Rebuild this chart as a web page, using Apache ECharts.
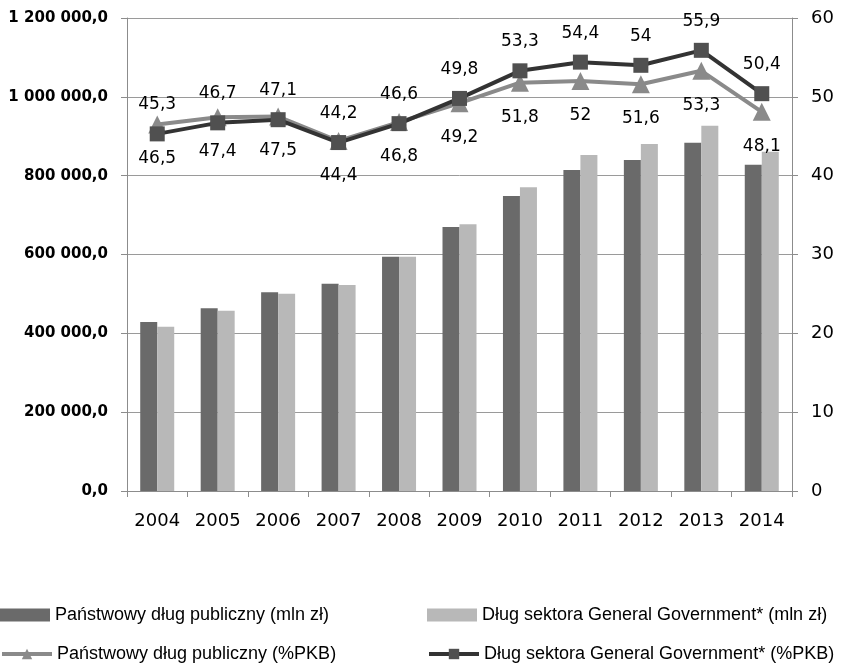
<!DOCTYPE html>
<html>
<head>
<meta charset="utf-8">
<script src="https://cdn.jsdelivr.net/npm/echarts@6/dist/echarts.min.js"></script>
<style>
  html, body { margin: 0; padding: 0; background: #fff; }
  #chart { width: 845px; height: 667px; }
</style>
</head>
<body>
<div id="chart"></div>
<script>
const years = ['2004','2005','2006','2007','2008','2009','2010','2011','2012','2013','2014'];

// Debt in mln zł (left axis)
const stateDebt = [428700, 463400, 504000, 526000, 594500, 669700, 748400, 814400, 839800, 883700, 827800];
const ggDebt    = [416900, 457500, 500600, 522600, 594500, 676500, 770400, 852400, 880400, 926800, 860800];

// Debt as % of GDP (right axis)
const stateDebtPct = [46.5, 47.4, 47.5, 44.4, 46.8, 49.2, 51.8, 52, 51.6, 53.3, 48.1];
const ggDebtPct    = [45.3, 46.7, 47.1, 44.2, 46.6, 49.8, 53.3, 54.4, 54, 55.9, 50.4];

const names = [
  'Państwowy dług publiczny (mln zł)',
  'Dług sektora General Government* (mln zł)',
  'Państwowy dług publiczny (%PKB)',
  'Dług sektora General Government* (%PKB)'
];

function fmtLeft(v) {
  const s = Math.round(v).toString().replace(/\B(?=(\d{3})+(?!\d))/g, ' ');
  return s + ',0';
}
function fmtPct(p) {
  return String(p.value).replace('.', ',');
}

const legendFont = { fontFamily: '"Liberation Sans Narrow", "Liberation Sans", sans-serif', fontSize: 18, color: '#000' };
function legendAt(name, left, top, icon) {
  const l = {
    data: [name], left: left, top: top, itemWidth: 50, itemHeight: 13, itemGap: 0,
    textStyle: legendFont, selectedMode: false, padding: 0
  };
  if (icon) l.icon = icon;
  else l.lineStyle = { width: 4 };
  return l;
}

const chart = echarts.init(document.getElementById('chart'), null, { renderer: 'canvas' });
chart.setOption({
  animation: false,
  backgroundColor: '#fff',
  grid: { left: 127, right: 53, top: 18, bottom: 176 },
  legend: [
    legendAt(names[0], 0, 606, 'rect'),
    legendAt(names[1], 427, 606, 'rect'),
    legendAt(names[2], 0, 645),
    legendAt(names[3], 427, 645)
  ],
  xAxis: {
    type: 'category',
    data: years,
    boundaryGap: true,
    axisLine: { lineStyle: { color: '#8c8c8c', width: 1 } },
    axisTick: { show: true, length: 6, lineStyle: { color: '#8c8c8c' } },
    axisLabel: { fontFamily: 'DejaVu Sans', fontSize: 18, color: '#000', margin: 21 }
  },
  yAxis: [
    {
      type: 'value', min: 0, max: 1200000, interval: 200000,
      axisLine: { show: true, lineStyle: { color: '#8c8c8c' } },
      axisTick: { show: true, length: 6, lineStyle: { color: '#8c8c8c' } },
      splitLine: { lineStyle: { color: '#9a9a9a', width: 1 } },
      axisLabel: { fontFamily: 'DejaVu Sans', fontWeight: 'bold', fontSize: 15, color: '#000', margin: 19, formatter: fmtLeft }
    },
    {
      type: 'value', min: 0, max: 60, interval: 10,
      axisLine: { show: true, lineStyle: { color: '#8c8c8c' } },
      axisTick: { show: true, length: 6, lineStyle: { color: '#8c8c8c' } },
      splitLine: { show: false },
      axisLabel: { fontFamily: 'DejaVu Sans', fontSize: 18, color: '#000', margin: 19 }
    }
  ],
  series: [
    {
      name: names[0], type: 'bar', data: stateDebt, yAxisIndex: 0,
      barWidth: 17, barGap: '0%',
      itemStyle: { color: '#6a6a6a' }
    },
    {
      name: names[1], type: 'bar', data: ggDebt, yAxisIndex: 0,
      barWidth: 17, barGap: '0%',
      itemStyle: { color: '#b8b8b8' }
    },
    {
      name: names[2], type: 'line', data: stateDebtPct, yAxisIndex: 1,
      symbol: 'triangle', symbolSize: 18,
      lineStyle: { color: '#8a8a8a', width: 4 },
      itemStyle: { color: '#8a8a8a' },
      label: { show: true, position: 'bottom', distance: 17, formatter: fmtPct,
               fontFamily: 'DejaVu Sans', fontSize: 17, color: '#000' },
      z: 3
    },
    {
      name: names[3], type: 'line', data: ggDebtPct, yAxisIndex: 1,
      symbol: 'rect', symbolSize: 15,
      lineStyle: { color: '#333333', width: 4 },
      itemStyle: { color: '#505050' },
      label: { show: true, position: 'top', distance: 13, formatter: fmtPct,
               fontFamily: 'DejaVu Sans', fontSize: 17, color: '#000' },
      z: 4
    }
  ]
});
</script>
</body>
</html>
